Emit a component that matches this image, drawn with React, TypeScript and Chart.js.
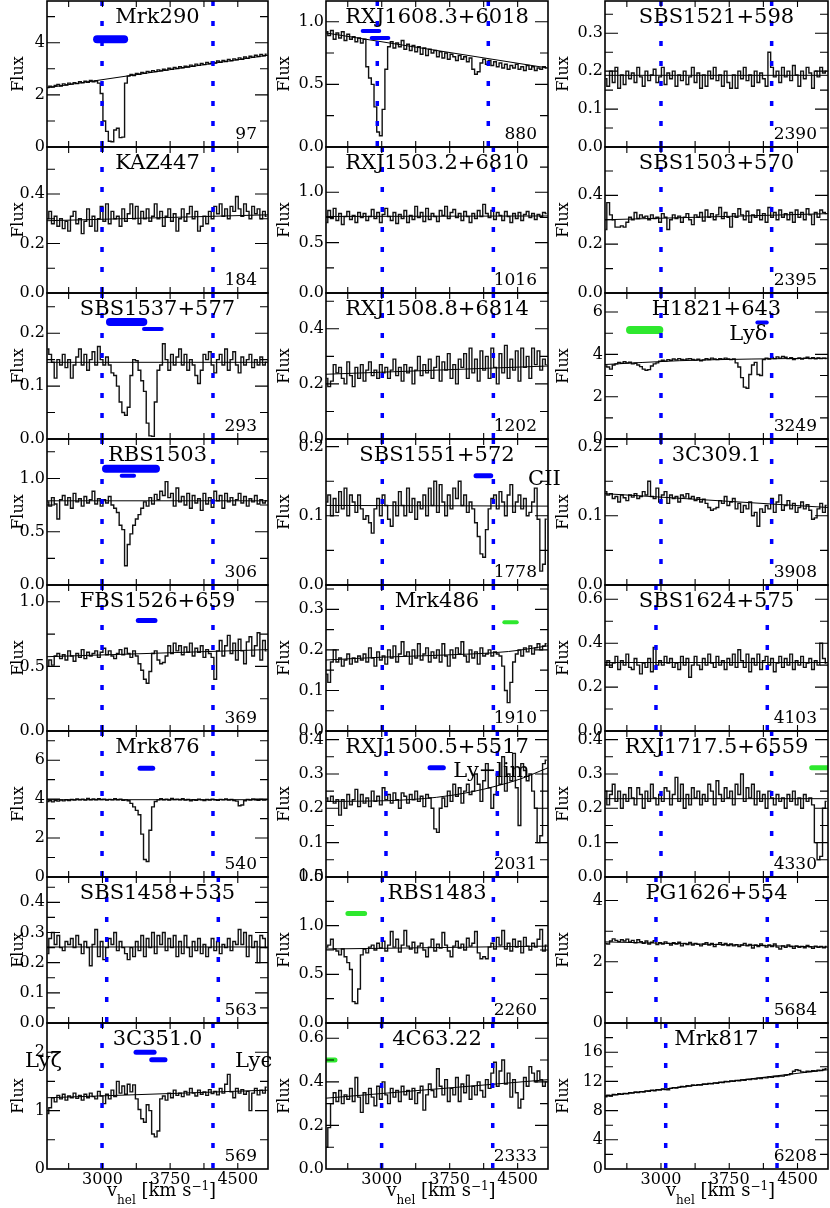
import React, { useEffect, useRef } from "react";
import { Chart, registerables } from "chart.js";

Chart.register(...registerables);

const FONT = '"DejaVu Serif", "Liberation Serif", serif';
const BLUE = "#0000ff";
const GREEN = "#2ee82e";

// velocity grid (km/s) of the spectra bins
const VEL = [
  2390, 2420, 2450, 2480, 2510, 2540, 2570, 2600, 2630, 2660,
  2690, 2720, 2750, 2780, 2810, 2840, 2870, 2900, 2930, 2960,
  2990, 3020, 3050, 3080, 3110, 3140, 3170, 3200, 3230, 3260,
  3290, 3320, 3350, 3380, 3410, 3440, 3470, 3500, 3530, 3560,
  3590, 3620, 3650, 3680, 3710, 3740, 3770, 3800, 3830, 3860,
  3890, 3920, 3950, 3980, 4010, 4040, 4070, 4100, 4130, 4160,
  4190, 4220, 4250, 4280, 4310, 4340, 4370, 4400, 4430, 4460,
  4490, 4520, 4550, 4580, 4610, 4640, 4670, 4700, 4730, 4760,
  4790, 4820,
];
const X_MIN = 2385;
const X_MAX = 4835;
const X_TICKS = [2625, 3000, 3375, 3750, 4125, 4500];
const X_LABELED = [3000, 3750, 4500];

// y tick sets
const T_024 = { major: [0, 2, 4], labels: ["0", "2", "4"], minor: [1, 3, 5] };
const T_0246 = { major: [0, 2, 4, 6], labels: ["0", "2", "4", "6"], minor: [1, 3, 5, 7] };
const T_012 = { major: [0, 1, 2], labels: ["0", "1", "2"], minor: [0.5, 1.5] };
const T_P2 = { major: [0, 0.2, 0.4], labels: ["0.0", "0.2", "0.4"], minor: [0.1, 0.3, 0.5] };
const T_P2_06 = { major: [0, 0.2, 0.4, 0.6], labels: ["0.0", "0.2", "0.4", "0.6"], minor: [0.1, 0.3, 0.5] };
const T_P1_02 = { major: [0, 0.1, 0.2], labels: ["0.0", "0.1", "0.2"], minor: [0.05, 0.15, 0.25] };
const T_P1_03 = { major: [0, 0.1, 0.2, 0.3], labels: ["0.0", "0.1", "0.2", "0.3"], minor: [0.05, 0.15, 0.25, 0.35] };
const T_P1_04 = { major: [0, 0.1, 0.2, 0.3, 0.4], labels: ["0.0", "0.1", "0.2", "0.3", "0.4"], minor: [0.05, 0.15, 0.25, 0.35, 0.45] };
const T_P5 = { major: [0, 0.5, 1.0], labels: ["0.0", "0.5", "1.0"], minor: [0.25, 0.75, 1.25] };
const T_P5_15 = { major: [0, 0.5, 1.0, 1.5], labels: ["0.0", "0.5", "1.0", "1.5"], minor: [0.25, 0.75, 1.25] };
const T_4 = { major: [0, 4, 8, 12, 16], labels: ["0", "4", "8", "12", "16"], minor: [2, 6, 10, 14, 18] };

// ---------------- column 1 ----------------
const MRK290_FLUX = [
  2.28, 2.33, 2.30, 2.36, 2.40, 2.34, 2.42, 2.38, 2.45, 2.41,
  2.47, 2.43, 2.50, 2.46, 2.52, 2.48, 2.55, 2.50, 2.53, 2.45,
  2.05, 1.00, 0.60, 0.22, 0.20, 0.65, 0.72, 0.36, 0.38, 2.45,
  2.72, 2.78, 2.74, 2.82, 2.79, 2.86, 2.83, 2.90, 2.87, 2.93,
  2.89, 2.96, 2.92, 2.98, 2.95, 3.02, 2.98, 3.05, 3.01, 3.08,
  3.04, 3.10, 3.07, 3.14, 3.10, 3.18, 3.13, 3.20, 3.16, 3.24,
  3.19, 3.26, 3.22, 3.30, 3.25, 3.32, 3.28, 3.36, 3.31, 3.38,
  3.34, 3.42, 3.36, 3.45, 3.40, 3.48, 3.44, 3.52, 3.47, 3.55,
  3.50, 3.56,
];
const MRK290_CONT = [[2385, 2.27], [4835, 3.52]];
const MRK290_BARS = [[2940, 3240, 4.13]];
const MRK290_LINES = [2995, 4225];

const KAZ447_FLUX = [
  0.30, 0.33, 0.28, 0.31, 0.27, 0.30, 0.26, 0.29, 0.25, 0.31,
  0.33, 0.28, 0.30, 0.24, 0.29, 0.34, 0.27, 0.31, 0.25, 0.30,
  0.35, 0.29, 0.36, 0.28, 0.33, 0.30, 0.31, 0.27, 0.34, 0.29,
  0.32, 0.36, 0.30, 0.35, 0.28, 0.33, 0.30, 0.34, 0.29, 0.31,
  0.36, 0.30, 0.33, 0.27, 0.31, 0.34, 0.29, 0.32, 0.25, 0.30,
  0.34, 0.29, 0.32, 0.35, 0.30, 0.33, 0.25, 0.27, 0.31, 0.28,
  0.33, 0.30, 0.35, 0.32, 0.36, 0.31, 0.34, 0.30, 0.35, 0.33,
  0.39, 0.34, 0.31, 0.36, 0.33, 0.30, 0.35, 0.32, 0.34, 0.30,
  0.33, 0.31,
];
const KAZ447_CONT = [[2385, 0.292], [4835, 0.316]];
const KAZ447_LINES = [2995, 4225];

const SBS1537_FLUX = [
  0.17, 0.16, 0.145, 0.115, 0.15, 0.14, 0.16, 0.135, 0.15, 0.115,
  0.14, 0.155, 0.17, 0.14, 0.16, 0.13, 0.15, 0.165, 0.14, 0.175,
  0.15, 0.14, 0.155, 0.14, 0.125, 0.12, 0.10, 0.07, 0.05, 0.045,
  0.06, 0.12, 0.15, 0.148, 0.13, 0.11, 0.09, 0.03, 0.006, 0.005,
  0.07, 0.13, 0.14, 0.18, 0.15, 0.13, 0.16, 0.14, 0.155, 0.17,
  0.14, 0.16, 0.13, 0.15, 0.14, 0.12, 0.105, 0.13, 0.16, 0.15,
  0.165, 0.14, 0.125, 0.15, 0.16, 0.14, 0.17, 0.13, 0.15, 0.165,
  0.14, 0.125, 0.155, 0.14, 0.15, 0.16, 0.135, 0.15, 0.14, 0.155,
  0.14, 0.145,
];
const SBS1537_CONT = [[2385, 0.145], [4835, 0.145]];
const SBS1537_BARS = [[3083, 3453, 0.221], [3460, 3657, 0.208]];
const SBS1537_LINES = [2995, 4225];

const RBS1503_FLUX = [
  0.78, 0.74, 0.82, 0.76, 0.62, 0.80, 0.84, 0.75, 0.82, 0.72,
  0.86, 0.78, 0.81, 0.74, 0.83, 0.77, 0.80, 0.88, 0.76, 0.81,
  0.74, 0.80, 0.77, 0.83, 0.75, 0.72, 0.68, 0.56, 0.52, 0.18,
  0.38, 0.48, 0.56, 0.62, 0.66, 0.72, 0.78, 0.74, 0.82, 0.76,
  0.85, 0.80, 0.88, 0.84, 0.97, 0.82, 0.86, 0.74, 0.91, 0.78,
  0.83, 0.75, 0.86, 0.72, 0.84, 0.77, 0.81, 0.70, 0.86, 0.76,
  0.82, 0.73, 0.88, 0.79, 0.84, 0.72, 0.86, 0.78, 0.82, 0.75,
  0.80, 0.86, 0.77, 0.83, 0.74, 0.81, 0.78, 0.84, 0.76, 0.80,
  0.77, 0.79,
];
const RBS1503_CONT = [[2385, 0.79], [4835, 0.79]];
const RBS1503_BARS = [[3039, 3593, 1.09], [3213, 3350, 1.025]];
const RBS1503_LINES = [2995, 4225];

const FBS1526_FLUX = [
  0.50, 0.55, 0.51, 0.58, 0.60, 0.56, 0.59, 0.55, 0.62, 0.58,
  0.54, 0.60, 0.57, 0.63, 0.56, 0.61, 0.58, 0.60, 0.62, 0.57,
  0.61, 0.64, 0.59, 0.62, 0.58, 0.56, 0.60, 0.63, 0.59, 0.64,
  0.60, 0.57, 0.62, 0.58, 0.52, 0.47, 0.40, 0.37, 0.46, 0.60,
  0.62, 0.55, 0.52, 0.53, 0.58, 0.66, 0.60, 0.68, 0.62, 0.66,
  0.59, 0.65, 0.61, 0.68, 0.58, 0.64, 0.61, 0.66, 0.57, 0.63,
  0.60, 0.57, 0.40, 0.62, 0.70, 0.58, 0.66, 0.74, 0.60, 0.68,
  0.55, 0.71, 0.62, 0.52, 0.69, 0.73, 0.58, 0.66, 0.76, 0.55,
  0.70, 0.62,
];
const FBS1526_CONT = [[2385, 0.575], [4835, 0.63]];
const FBS1526_BARS = [[3397, 3582, 0.856]];
const FBS1526_LINES = [2995, 4225];

const MRK876_FLUX = [
  3.88, 3.92, 3.86, 3.93, 3.90, 3.95, 3.91, 3.97, 3.93, 3.98,
  3.95, 4.01, 3.96, 4.00, 3.95, 4.03, 3.97, 4.01, 3.96, 4.02,
  3.98, 4.00, 3.95, 3.99, 3.96, 4.02, 3.97, 4.00, 3.94, 3.96,
  3.92, 3.78, 3.60, 3.42, 3.20, 2.20, 0.90, 0.80, 2.40, 3.60,
  3.88, 3.96, 4.02, 3.97, 4.00, 3.95, 4.03, 3.98, 4.00, 3.96,
  4.02, 3.95, 3.98, 3.92, 3.97, 3.94, 4.00, 3.96, 3.93, 3.98,
  3.95, 4.00, 3.97, 3.94, 3.99, 3.96, 4.01, 3.95, 3.98, 3.93,
  3.90, 3.66, 3.70, 3.92, 3.98, 3.95, 4.01, 3.97, 3.94, 3.99,
  3.95, 3.97,
];
const MRK876_CONT = [[2385, 3.97], [4835, 3.97]];
const MRK876_BARS = [[3416, 3557, 5.59]];
const MRK876_LINES = [2995, 4225];

const SBS1458_FLUX = [
  0.23, 0.28, 0.30, 0.26, 0.29, 0.25, 0.24, 0.27, 0.26, 0.28,
  0.25, 0.29, 0.26, 0.23, 0.27, 0.25, 0.19, 0.26, 0.31, 0.22,
  0.27, 0.21, 0.25, 0.28, 0.26, 0.30, 0.24, 0.27, 0.25, 0.23,
  0.21, 0.25, 0.22, 0.27, 0.24, 0.29, 0.22, 0.28, 0.25, 0.30,
  0.23, 0.29, 0.26, 0.30, 0.24, 0.28, 0.25, 0.29, 0.22, 0.27,
  0.23, 0.29, 0.25, 0.22, 0.27, 0.24, 0.28, 0.23, 0.26, 0.22,
  0.25, 0.28, 0.24, 0.27, 0.23, 0.26, 0.25, 0.28, 0.24, 0.27,
  0.26, 0.31, 0.26, 0.30, 0.22, 0.29, 0.25, 0.27, 0.20, 0.29,
  0.28, 0.25,
];
const SBS1458_CONT = [[2385, 0.252], [4835, 0.252]];
const SBS1458_LINES = [3047, 4284];

const C3C351_FLUX = [
  0.95, 1.05, 1.22, 1.15, 1.26, 1.20, 1.28, 1.18, 1.25, 1.22,
  1.30, 1.21, 1.26, 1.18, 1.28, 1.22, 1.30, 1.24, 1.20, 1.33,
  1.25, 1.12, 1.28, 1.20, 1.35, 1.24, 1.50, 1.30, 1.42, 1.28,
  1.45, 1.32, 1.44, 1.20, 1.02, 0.86, 0.80, 1.10, 1.00, 0.60,
  0.55, 0.65, 1.20, 1.25, 1.18, 1.30, 1.22, 1.35, 1.26, 1.30,
  1.24, 1.33, 1.27, 1.38, 1.30, 1.25, 1.35, 1.28, 1.32, 1.26,
  1.36, 1.29, 1.33, 1.27, 1.38, 1.30, 1.45, 1.62, 1.32, 1.22,
  1.38, 1.30, 1.36, 1.28, 1.33, 1.00, 1.30, 1.38, 1.27, 1.35,
  1.30, 1.40,
];
const C3C351_CONT = [[2385, 1.22], [4835, 1.35]];
const C3C351_BARS = [[3372, 3572, 2.0], [3546, 3693, 1.87]];
const C3C351_LINES = [2995, 4225];

// ---------------- column 2 ----------------
const RXJ1608_FLUX = [
  0.92, 0.89, 0.93, 0.86, 0.91, 0.87, 0.92, 0.85, 0.90, 0.86,
  0.88, 0.84, 0.87, 0.83, 0.86, 0.64, 0.55, 0.50, 0.32, 0.12,
  0.09, 0.30, 0.62, 0.80, 0.84, 0.79, 0.83, 0.80, 0.85, 0.78,
  0.82, 0.77, 0.81, 0.76, 0.80, 0.74, 0.79, 0.73, 0.78, 0.75,
  0.77, 0.72, 0.76, 0.71, 0.75, 0.70, 0.74, 0.72, 0.69, 0.73,
  0.70, 0.72, 0.68, 0.71, 0.62, 0.58, 0.60, 0.67, 0.70, 0.66,
  0.69, 0.65, 0.68, 0.64, 0.67, 0.63, 0.66, 0.62, 0.65, 0.63,
  0.66, 0.62, 0.64, 0.61, 0.65, 0.62, 0.64, 0.61, 0.63, 0.62,
  0.64, 0.63,
];
const RXJ1608_CONT = [[2385, 0.91], [4835, 0.63]];
const RXJ1608_BARS = [[2790, 2973, 0.925], [2889, 3073, 0.87]];
const RXJ1608_LINES = [2951, 4176];

const RXJ1503_FLUX = [
  0.70, 0.82, 0.74, 0.84, 0.72, 0.79, 0.68, 0.76, 0.81, 0.73,
  0.77, 0.70, 0.80, 0.75, 0.79, 0.72, 0.76, 0.83, 0.74, 0.80,
  0.70, 0.78, 0.84, 0.76, 0.72, 0.80, 0.69, 0.78, 0.74, 0.82,
  0.70, 0.77, 0.73, 0.86, 0.75, 0.80, 0.71, 0.84, 0.73, 0.79,
  0.76, 0.71, 0.82, 0.77, 0.86, 0.74, 0.80, 0.83, 0.75, 0.79,
  0.72, 0.81, 0.76, 0.70, 0.79, 0.74, 0.82, 0.76, 0.88, 0.79,
  0.75, 0.82, 0.73, 0.80, 0.77, 0.72, 0.81, 0.76, 0.70, 0.79,
  0.74, 0.80, 0.72, 0.78, 0.81, 0.75, 0.79, 0.73, 0.78, 0.76,
  0.80, 0.79,
];
const RXJ1503_CONT = [[2385, 0.76], [4835, 0.765]];
const RXJ1503_LINES = [3006, 4232];

const RXJ1508_FLUX = [
  0.22, 0.19, 0.21, 0.27, 0.24, 0.26, 0.22, 0.20, 0.28, 0.23,
  0.19, 0.26, 0.22, 0.27, 0.21, 0.25, 0.28, 0.23, 0.25, 0.22,
  0.27, 0.24, 0.26, 0.22, 0.25, 0.29, 0.23, 0.26, 0.21, 0.27,
  0.24, 0.26, 0.20, 0.25, 0.30, 0.23, 0.27, 0.24, 0.29, 0.22,
  0.26, 0.30, 0.21, 0.28, 0.25, 0.31, 0.22, 0.27, 0.20, 0.29,
  0.26, 0.31, 0.22, 0.33, 0.24, 0.29, 0.21, 0.32, 0.25, 0.30,
  0.22, 0.33, 0.26, 0.20, 0.31, 0.24, 0.34, 0.22, 0.29, 0.25,
  0.32, 0.21, 0.33, 0.26, 0.30, 0.22, 0.33, 0.27, 0.32, 0.25,
  0.29, 0.27,
];
const RXJ1508_CONT = [[2385, 0.235], [4835, 0.265]];
const RXJ1508_LINES = [3006, 4232];

const SBS1551_FLUX = [
  0.120, 0.130, 0.100, 0.125, 0.105, 0.135, 0.110, 0.140, 0.100, 0.130,
  0.120, 0.105, 0.130, 0.110, 0.095, 0.100, 0.090, 0.075, 0.110, 0.125,
  0.100, 0.130, 0.115, 0.095, 0.085, 0.120, 0.100, 0.135, 0.115, 0.100,
  0.140, 0.105, 0.125, 0.095, 0.120, 0.110, 0.130, 0.100, 0.140, 0.115,
  0.150, 0.105, 0.145, 0.120, 0.100, 0.130, 0.110, 0.140, 0.125, 0.150,
  0.115, 0.130, 0.105, 0.120, 0.110, 0.090, 0.070, 0.045, 0.040, 0.080,
  0.110, 0.125, 0.130, 0.110, 0.135, 0.120, 0.100, 0.130, 0.145, 0.105,
  0.120, 0.130, 0.110, 0.125, 0.100, 0.105, 0.120, 0.140, 0.095, 0.020,
  0.030, 0.095,
];
const SBS1551_CONT = [[2385, 0.115], [4835, 0.114]];
const SBS1551_BARS = [[4041, 4203, 0.158]];
const SBS1551_LINES = [3006, 4232];

const MRK486_FLUX = [
  0.14, 0.12, 0.17, 0.20, 0.17, 0.18, 0.16, 0.175, 0.19, 0.165,
  0.18, 0.17, 0.185, 0.175, 0.19, 0.17, 0.205, 0.18, 0.16, 0.195,
  0.175, 0.185, 0.165, 0.20, 0.18, 0.21, 0.17, 0.19, 0.22, 0.185,
  0.195, 0.165, 0.20, 0.18, 0.215, 0.175, 0.19, 0.205, 0.17, 0.195,
  0.18, 0.20, 0.17, 0.215, 0.185, 0.16, 0.20, 0.18, 0.205, 0.19,
  0.22, 0.185, 0.17, 0.20, 0.18, 0.195, 0.165, 0.205, 0.185, 0.19,
  0.20, 0.185, 0.195, 0.19, 0.185, 0.16, 0.10, 0.07, 0.12, 0.17,
  0.19, 0.20, 0.185, 0.205, 0.195, 0.21, 0.19, 0.205, 0.215, 0.20,
  0.21, 0.215,
];
const MRK486_CONT = [[2385, 0.175], [3000, 0.182], [4000, 0.19], [4400, 0.196], [4835, 0.21]];
const MRK486_BARS = [[4353, 4490, 0.268]];
const MRK486_LINES = [3006, 4232];

const RXJ1500_FLUX = [
  0.23, 0.22, 0.235, 0.215, 0.225, 0.18, 0.225, 0.20, 0.24, 0.21,
  0.225, 0.255, 0.205, 0.24, 0.215, 0.23, 0.205, 0.25, 0.22, 0.235,
  0.21, 0.26, 0.225, 0.24, 0.215, 0.245, 0.225, 0.20, 0.245, 0.235,
  0.215, 0.24, 0.225, 0.25, 0.22, 0.235, 0.205, 0.24, 0.23, 0.20,
  0.14, 0.13, 0.20, 0.23, 0.205, 0.25, 0.22, 0.27, 0.235, 0.26,
  0.215, 0.25, 0.27, 0.24, 0.25, 0.30, 0.27, 0.22, 0.28, 0.33,
  0.26, 0.20, 0.24, 0.30, 0.27, 0.35, 0.25, 0.30, 0.28, 0.36,
  0.26, 0.15, 0.33, 0.31, 0.28, 0.30, 0.25, 0.20, 0.10, 0.12,
  0.33, 0.34,
];
const RXJ1500_CONT = [[2385, 0.22], [3055, 0.222], [3607, 0.232], [3975, 0.247], [4269, 0.265], [4526, 0.285], [4835, 0.318]];
const RXJ1500_BARS = [[3533, 3680, 0.318]];
const RXJ1500_LINES = [3047, 4276];

const RBS1483_FLUX = [
  0.78, 0.80, 0.86, 0.76, 0.74, 0.70, 0.76, 0.68, 0.62, 0.55,
  0.22, 0.20, 0.35, 0.70, 0.76, 0.72, 0.78, 0.80, 0.75, 0.82,
  0.77, 0.84, 0.74, 0.80, 0.94, 0.78, 0.86, 0.73, 0.80, 0.95,
  0.79, 0.76, 0.83, 0.72, 0.79, 0.82, 0.75, 0.68, 0.78, 0.86,
  0.74, 0.81, 0.77, 0.93, 0.80, 0.74, 0.68, 0.79, 0.84, 0.77,
  0.81, 0.75, 0.87, 0.79, 0.82, 0.94, 0.72, 0.66, 0.68, 0.66,
  0.78, 0.82, 0.76, 0.88, 0.80, 0.95, 0.76, 0.82, 0.74, 0.86,
  0.78, 0.84, 0.72, 0.88, 0.79, 0.75, 0.82, 0.78, 0.86, 0.96,
  0.74, 0.80,
];
const RBS1483_CONT = [[2385, 0.76], [4835, 0.79]];
const RBS1483_BARS = [[2627, 2811, 1.126]];
const RBS1483_LINES = [3006, 4232];

const C4C6322_FLUX = [
  0.10, 0.19, 0.30, 0.35, 0.31, 0.36, 0.30, 0.34, 0.32, 0.37,
  0.31, 0.42, 0.33, 0.26, 0.35, 0.30, 0.37, 0.33, 0.29, 0.38,
  0.32, 0.40, 0.34, 0.30, 0.37, 0.33, 0.36, 0.31, 0.38, 0.34,
  0.36, 0.32, 0.37, 0.30, 0.35, 0.38, 0.27, 0.34, 0.39, 0.36,
  0.33, 0.46, 0.38, 0.34, 0.41, 0.31, 0.37, 0.34, 0.42, 0.31,
  0.39, 0.35, 0.43, 0.32, 0.38, 0.34, 0.40, 0.36, 0.33, 0.41,
  0.37, 0.44, 0.49, 0.38, 0.45, 0.50, 0.39, 0.44, 0.33, 0.41,
  0.35, 0.28, 0.32, 0.42, 0.38, 0.47, 0.44, 0.40, 0.45, 0.41,
  0.38, 0.40,
];
const C4C6322_CONT = [[2385, 0.325], [4835, 0.41]];
const C4C6322_BARS = [[2392, 2484, 0.5]];
const C4C6322_LINES = [2999, 4225];

// ---------------- column 3 ----------------
const SBS1521_FLUX = [
  0.18, 0.16, 0.20, 0.17, 0.21, 0.155, 0.19, 0.165, 0.20, 0.18,
  0.195, 0.17, 0.21, 0.185, 0.16, 0.20, 0.175, 0.19, 0.205, 0.17,
  0.185, 0.21, 0.165, 0.195, 0.18, 0.20, 0.16, 0.19, 0.175, 0.20,
  0.165, 0.185, 0.21, 0.17, 0.195, 0.155, 0.19, 0.16, 0.20, 0.18,
  0.21, 0.175, 0.19, 0.16, 0.20, 0.17, 0.155, 0.19, 0.155, 0.20,
  0.18, 0.21, 0.175, 0.19, 0.16, 0.20, 0.17, 0.195, 0.18, 0.16,
  0.25, 0.21, 0.185, 0.20, 0.17, 0.21, 0.185, 0.20, 0.175, 0.215,
  0.19, 0.16, 0.20, 0.18, 0.21, 0.195, 0.155, 0.20, 0.185, 0.21,
  0.195, 0.20,
];
const SBS1521_CONT = [[2385, 0.189], [4835, 0.189]];
const SBS1521_LINES = [3000, 4216];

const SBS1503_FLUX = [
  0.26, 0.37, 0.32, 0.30, 0.27, 0.27, 0.275, 0.27, 0.29, 0.31,
  0.30, 0.33, 0.305, 0.32, 0.31, 0.315, 0.30, 0.32, 0.305, 0.31,
  0.29, 0.325, 0.31, 0.26, 0.30, 0.32, 0.305, 0.315, 0.29, 0.31,
  0.325, 0.30, 0.28, 0.32, 0.31, 0.33, 0.295, 0.34, 0.31, 0.325,
  0.30, 0.32, 0.35, 0.305, 0.33, 0.31, 0.27, 0.325, 0.31, 0.345,
  0.32, 0.30, 0.335, 0.29, 0.32, 0.31, 0.34, 0.30, 0.325, 0.29,
  0.35, 0.31, 0.33, 0.30, 0.34, 0.31, 0.325, 0.30, 0.33, 0.29,
  0.34, 0.31, 0.33, 0.30, 0.345, 0.32, 0.28, 0.33, 0.31, 0.34,
  0.33, 0.325,
];
const SBS1503_CONT = [[2385, 0.30], [4835, 0.325]];
const SBS1503_LINES = [3000, 4216];

const H1821_FLUX = [
  3.45, 3.40, 3.30, 3.50, 3.55, 3.62, 3.58, 3.65, 3.60, 3.63,
  3.55, 3.58, 3.50, 3.42, 3.30, 3.25, 3.28, 3.45, 3.55, 3.60,
  3.68, 3.72, 3.68, 3.75, 3.72, 3.78, 3.74, 3.80, 3.76, 3.74,
  3.78, 3.80, 3.76, 3.73, 3.77, 3.70, 3.74, 3.79, 3.76, 3.82,
  3.78, 3.75, 3.80, 3.77, 3.82, 3.78, 3.75, 3.78, 3.60, 3.40,
  2.90, 2.45, 2.40, 3.05, 3.50, 3.62, 3.05, 3.00, 3.75, 3.82,
  3.78, 3.85, 3.80, 3.88, 3.82, 3.90, 3.86, 3.80, 3.84, 3.76,
  3.80, 3.83, 3.78, 3.82, 3.86, 3.80, 3.84, 3.79, 3.83, 3.80,
  3.82, 3.80,
];
const H1821_CONT = [[2385, 3.52], [3200, 3.7], [4000, 3.78], [4835, 3.82]];
const H1821_BARS = [[2660, 2982, 5.15], [4059, 4162, 5.5]];
const H1821_LINES = [3000, 4216];

const C3C309_FLUX = [
  0.135, 0.130, 0.132, 0.125, 0.128, 0.120, 0.130, 0.126, 0.122, 0.130,
  0.127, 0.132, 0.125, 0.128, 0.135, 0.130, 0.150, 0.128, 0.125, 0.140,
  0.120, 0.130, 0.135, 0.118, 0.130, 0.125, 0.128, 0.120, 0.130, 0.127,
  0.132, 0.125, 0.128, 0.122, 0.126, 0.120, 0.124, 0.118, 0.112, 0.108,
  0.110, 0.112, 0.122, 0.118, 0.128, 0.115, 0.120, 0.125, 0.110, 0.118,
  0.105, 0.115, 0.110, 0.120, 0.100, 0.105, 0.085, 0.110, 0.105, 0.115,
  0.110, 0.125, 0.105, 0.120, 0.130, 0.108, 0.115, 0.122, 0.110, 0.118,
  0.105, 0.112, 0.120, 0.110, 0.116, 0.108, 0.095, 0.097, 0.110, 0.118,
  0.105, 0.115,
];
const C3C309_CONT = [[2385, 0.132], [4835, 0.112]];
const C3C309_LINES = [3000, 4216];

const SBS1624_FLUX = [
  0.30, 0.32, 0.29, 0.31, 0.34, 0.28, 0.32, 0.30, 0.35, 0.29,
  0.28, 0.33, 0.30, 0.26, 0.31, 0.29, 0.33, 0.27, 0.38, 0.30,
  0.32, 0.30, 0.34, 0.31, 0.33, 0.29, 0.31, 0.28, 0.34, 0.30,
  0.33, 0.245, 0.30, 0.34, 0.30, 0.28, 0.33, 0.30, 0.35, 0.31,
  0.29, 0.34, 0.30, 0.32, 0.28, 0.33, 0.30, 0.35, 0.29, 0.37,
  0.32, 0.29, 0.35, 0.27, 0.33, 0.30, 0.35, 0.28, 0.32, 0.34,
  0.30, 0.33, 0.27, 0.31, 0.34, 0.29, 0.33, 0.30, 0.35, 0.28,
  0.32, 0.30, 0.34, 0.29, 0.31, 0.33, 0.28, 0.32, 0.30, 0.40,
  0.33, 0.31,
];
const SBS1624_CONT = [[2385, 0.312], [4835, 0.312]];
const SBS1624_LINES = [2945, 4168];

const RXJ1717_FLUX = [
  0.25, 0.21, 0.24, 0.27, 0.22, 0.25, 0.20, 0.24, 0.22, 0.26,
  0.23, 0.21, 0.26, 0.24, 0.20, 0.25, 0.22, 0.27, 0.23, 0.21,
  0.24, 0.22, 0.26, 0.25, 0.21, 0.24, 0.29, 0.22, 0.27, 0.20,
  0.24, 0.21, 0.26, 0.23, 0.25, 0.21, 0.24, 0.22, 0.27, 0.25,
  0.21, 0.28, 0.24, 0.22, 0.26, 0.23, 0.25, 0.21, 0.27, 0.24,
  0.30, 0.22, 0.26, 0.23, 0.27, 0.21, 0.25, 0.22, 0.24, 0.20,
  0.25, 0.23, 0.21, 0.24, 0.22, 0.23, 0.20, 0.24, 0.22, 0.25,
  0.21, 0.23, 0.20, 0.24, 0.22, 0.23, 0.21, 0.10, 0.05, 0.06,
  0.20, 0.22,
];
const RXJ1717_CONT = [[2385, 0.228], [4835, 0.228]];
const RXJ1717_BARS = [[4656, 4840, 0.318]];
const RXJ1717_LINES = [3000, 4216];

const PG1626_FLUX = [
  2.60, 2.58, 2.68, 2.75, 2.70, 2.66, 2.72, 2.68, 2.74, 2.65,
  2.70, 2.62, 2.72, 2.66, 2.60, 2.68, 2.58, 2.64, 2.69, 2.56,
  2.62, 2.58, 2.65, 2.60, 2.55, 2.62, 2.58, 2.64, 2.52, 2.60,
  2.56, 2.63, 2.55, 2.60, 2.57, 2.52, 2.58, 2.62, 2.55, 2.60,
  2.50, 2.57, 2.62, 2.55, 2.60, 2.53, 2.58, 2.52, 2.56, 2.50,
  2.55, 2.60, 2.52, 2.57, 2.45, 2.55, 2.50, 2.58, 2.53, 2.48,
  2.55, 2.50, 2.58, 2.48, 2.42, 2.52, 2.47, 2.55, 2.50, 2.44,
  2.52, 2.47, 2.50, 2.46, 2.53, 2.49, 2.44, 2.51, 2.47, 2.50,
  2.46, 2.50,
];
const PG1626_CONT = [[2385, 2.65], [4835, 2.48]];
const PG1626_LINES = [2945, 4168];

const MRK817_FLUX = [
  9.90, 10.10, 10.00, 10.20, 10.15, 10.30, 10.22, 10.35, 10.30, 10.45,
  10.40, 10.55, 10.48, 10.60, 10.55, 10.70, 10.65, 10.80, 10.72, 10.85,
  10.80, 10.95, 10.88, 10.85, 11.05, 11.15, 11.10, 11.20, 11.30, 11.25,
  11.40, 11.35, 11.50, 11.45, 11.55, 11.50, 11.65, 11.60, 11.72, 11.68,
  11.80, 11.75, 11.90, 11.85, 11.98, 11.95, 12.05, 12.00, 12.12, 12.08,
  12.20, 12.15, 12.28, 12.25, 12.35, 12.32, 12.45, 12.40, 12.52, 12.48,
  12.60, 12.55, 12.68, 12.65, 12.75, 12.72, 12.85, 12.90, 13.05, 13.40,
  13.60, 13.50, 13.30, 13.25, 13.40, 13.35, 13.45, 13.42, 13.55, 13.50,
  13.65, 13.75,
];
const MRK817_CONT = [[2385, 10.0], [4835, 13.6]];
const MRK817_LINES = [3052, 4275];

// ---------------- panel definitions ----------------
type Note = { text: string; v: number; f: number };
type Panel = {
  name: string; id: string; col: number; row: number; yMax: number; ticks: any;
  flux: number[]; cont: number[][]; bars: number[][]; barStyle: [number, string][];
  lines: number[]; notes: Note[];
};

const PANELS: Panel[] = [
  { name: "Mrk290", id: "97", col: 0, row: 0, yMax: 5.6, ticks: T_024, flux: MRK290_FLUX, cont: MRK290_CONT, bars: MRK290_BARS, barStyle: [[8, BLUE]], lines: MRK290_LINES, notes: [] },
  { name: "KAZ447", id: "184", col: 0, row: 1, yMax: 0.59, ticks: T_P2, flux: KAZ447_FLUX, cont: KAZ447_CONT, bars: [], barStyle: [], lines: KAZ447_LINES, notes: [] },
  { name: "SBS1537+577", id: "293", col: 0, row: 2, yMax: 0.276, ticks: T_P1_02, flux: SBS1537_FLUX, cont: SBS1537_CONT, bars: SBS1537_BARS, barStyle: [[8, BLUE], [4, BLUE]], lines: SBS1537_LINES, notes: [] },
  { name: "RBS1503", id: "306", col: 0, row: 3, yMax: 1.37, ticks: T_P5, flux: RBS1503_FLUX, cont: RBS1503_CONT, bars: RBS1503_BARS, barStyle: [[8, BLUE], [4, BLUE]], lines: RBS1503_LINES, notes: [] },
  { name: "FBS1526+659", id: "369", col: 0, row: 4, yMax: 1.13, ticks: T_P5, flux: FBS1526_FLUX, cont: FBS1526_CONT, bars: FBS1526_BARS, barStyle: [[5, BLUE]], lines: FBS1526_LINES, notes: [] },
  { name: "Mrk876", id: "540", col: 0, row: 5, yMax: 7.5, ticks: T_0246, flux: MRK876_FLUX, cont: MRK876_CONT, bars: MRK876_BARS, barStyle: [[5, BLUE]], lines: MRK876_LINES, notes: [] },
  { name: "SBS1458+535", id: "563", col: 0, row: 6, yMax: 0.484, ticks: T_P1_04, flux: SBS1458_FLUX, cont: SBS1458_CONT, bars: [], barStyle: [], lines: SBS1458_LINES, notes: [] },
  { name: "3C351.0", id: "569", col: 0, row: 7, yMax: 2.5, ticks: T_012, flux: C3C351_FLUX, cont: C3C351_CONT, bars: C3C351_BARS, barStyle: [[5, BLUE], [5, BLUE]], lines: C3C351_LINES,
    notes: [{ text: "Lyζ", v: 2141, f: 1.75 }, { text: "Lyϵ", v: 4469, f: 1.75 }] },

  { name: "RXJ1608.3+6018", id: "880", col: 1, row: 0, yMax: 1.165, ticks: T_P5, flux: RXJ1608_FLUX, cont: RXJ1608_CONT, bars: RXJ1608_BARS, barStyle: [[4, BLUE], [4, BLUE]], lines: RXJ1608_LINES, notes: [] },
  { name: "RXJ1503.2+6810", id: "1016", col: 1, row: 1, yMax: 1.45, ticks: T_P5, flux: RXJ1503_FLUX, cont: RXJ1503_CONT, bars: [], barStyle: [], lines: RXJ1503_LINES, notes: [] },
  { name: "RXJ1508.8+6814", id: "1202", col: 1, row: 2, yMax: 0.53, ticks: T_P2, flux: RXJ1508_FLUX, cont: RXJ1508_CONT, bars: [], barStyle: [], lines: RXJ1508_LINES, notes: [] },
  { name: "SBS1551+572", id: "1778", col: 1, row: 3, yMax: 0.211, ticks: T_P1_02, flux: SBS1551_FLUX, cont: SBS1551_CONT, bars: SBS1551_BARS, barStyle: [[5, BLUE]], lines: SBS1551_LINES,
    notes: [{ text: "CII", v: 4615, f: 0.145 }] },
  { name: "Mrk486", id: "1910", col: 1, row: 4, yMax: 0.36, ticks: T_P1_03, flux: MRK486_FLUX, cont: MRK486_CONT, bars: MRK486_BARS, barStyle: [[4, GREEN]], lines: MRK486_LINES, notes: [] },
  { name: "RXJ1500.5+5517", id: "2031", col: 1, row: 5, yMax: 0.425, ticks: T_P1_04, flux: RXJ1500_FLUX, cont: RXJ1500_CONT, bars: RXJ1500_BARS, barStyle: [[5, BLUE]], lines: RXJ1500_LINES,
    notes: [{ text: "Ly\u2212lim", v: 3790, f: 0.291 }] },
  { name: "RBS1483", id: "2260", col: 1, row: 6, yMax: 1.5, ticks: T_P5_15, flux: RBS1483_FLUX, cont: RBS1483_CONT, bars: RBS1483_BARS, barStyle: [[5, GREEN]], lines: RBS1483_LINES, notes: [] },
  { name: "4C63.22", id: "2333", col: 1, row: 7, yMax: 0.67, ticks: T_P2_06, flux: C4C6322_FLUX, cont: C4C6322_CONT, bars: C4C6322_BARS, barStyle: [[5, GREEN]], lines: C4C6322_LINES, notes: [] },

  { name: "SBS1521+598", id: "2390", col: 2, row: 0, yMax: 0.385, ticks: T_P1_03, flux: SBS1521_FLUX, cont: SBS1521_CONT, bars: [], barStyle: [], lines: SBS1521_LINES, notes: [] },
  { name: "SBS1503+570", id: "2395", col: 2, row: 1, yMax: 0.598, ticks: T_P2, flux: SBS1503_FLUX, cont: SBS1503_CONT, bars: [], barStyle: [], lines: SBS1503_LINES, notes: [] },
  { name: "H1821+643", id: "3249", col: 2, row: 2, yMax: 6.9, ticks: T_0246, flux: H1821_FLUX, cont: H1821_CONT, bars: H1821_BARS, barStyle: [[8, GREEN], [4, BLUE]], lines: H1821_LINES,
    notes: [{ text: "Lyδ", v: 3751, f: 4.68 }] },
  { name: "3C309.1", id: "3908", col: 2, row: 3, yMax: 0.211, ticks: T_P1_02, flux: C3C309_FLUX, cont: C3C309_CONT, bars: [], barStyle: [], lines: C3C309_LINES, notes: [] },
  { name: "SBS1624+575", id: "4103", col: 2, row: 4, yMax: 0.665, ticks: T_P2_06, flux: SBS1624_FLUX, cont: SBS1624_CONT, bars: [], barStyle: [], lines: SBS1624_LINES, notes: [] },
  { name: "RXJ1717.5+6559", id: "4330", col: 2, row: 5, yMax: 0.425, ticks: T_P1_04, flux: RXJ1717_FLUX, cont: RXJ1717_CONT, bars: RXJ1717_BARS, barStyle: [[5, GREEN]], lines: RXJ1717_LINES, notes: [] },
  { name: "PG1626+554", id: "5684", col: 2, row: 6, yMax: 4.77, ticks: T_024, flux: PG1626_FLUX, cont: PG1626_CONT, bars: [], barStyle: [], lines: PG1626_LINES, notes: [] },
  { name: "Mrk817", id: "6208", col: 2, row: 7, yMax: 20, ticks: T_4, flux: MRK817_FLUX, cont: MRK817_CONT, bars: [], barStyle: [], lines: MRK817_LINES, notes: [] },
];

// ---------------- layout ----------------
const COL_LEFT = [47, 326, 605];
const COL_W = [221, 222, 223];
const ROW_TOP0 = 1;
const ROW_H = 146;
const AXIS_W = [47, 58, 58];
const FLUX_SIZE = 16;
const FLUX_PAD = [9.4, 7.4, 7.4];
const PAD_R = [12, 12, 2];

function decoPlugin(p: Panel, bottom: boolean) {
  return {
    id: "deco",
    afterDraw(chart: any) {
      const { ctx, chartArea: ca, scales } = chart;
      const xs = scales.x;
      const ys = scales.y;
      ctx.save();
      ctx.strokeStyle = "#000";
      ctx.lineWidth = 1.6;
      ctx.strokeRect(ca.left, ca.top, ca.right - ca.left, ca.bottom - ca.top);
      ctx.lineWidth = 1.1;
      ctx.beginPath();
      X_TICKS.forEach((v) => {
        const x = xs.getPixelForValue(v);
        ctx.moveTo(x, ca.bottom); ctx.lineTo(x, ca.bottom - 6);
        ctx.moveTo(x, ca.top); ctx.lineTo(x, ca.top + 6);
      });
      const yt = (vals: number[], len: number) => vals.forEach((v) => {
        const y = ys.getPixelForValue(v);
        if (y < ca.top + 0.5 || y > ca.bottom - 0.5) return;
        ctx.moveTo(ca.left, y); ctx.lineTo(ca.left + len, y);
        ctx.moveTo(ca.right, y); ctx.lineTo(ca.right - len, y);
      });
      yt(p.ticks.major, 13);
      yt(p.ticks.minor, 8);
      ctx.stroke();

      ctx.fillStyle = "#000";
      ctx.textBaseline = "alphabetic";
      ctx.font = `21px ${FONT}`;
      ctx.textAlign = "center";
      ctx.fillText(p.name, (ca.left + ca.right) / 2, ca.top + 21.5);

      ctx.font = `17px ${FONT}`;
      ctx.textAlign = "right";
      ctx.fillText(p.id, ca.right - 11, ca.bottom - 8.5);

      ctx.font = `21px ${FONT}`;
      ctx.textAlign = "left";
      p.notes.forEach((n) => {
        ctx.fillText(n.text, xs.getPixelForValue(n.v), ys.getPixelForValue(n.f));
      });

      if (bottom) {
        const parts: [string, number, number][] = [
          ["v", 18, 0], ["hel", 12, 8], [" [km s", 18, 0], ["\u22121", 12, -6], ["]", 18, 0],
        ];
        let total = 0;
        parts.forEach(([t, s]) => { ctx.font = `${s}px ${FONT}`; total += ctx.measureText(t).width; });
        let x = (ca.left + ca.right) / 2 + 4 - total / 2;
        const base = ca.bottom + 26.5;
        parts.forEach(([t, s, dy]) => {
          ctx.font = `${s}px ${FONT}`;
          ctx.fillText(t, x, base + dy);
          x += ctx.measureText(t).width;
        });
      }
      ctx.restore();
    },
  };
}

function makeChart(canvas: HTMLCanvasElement, p: Panel) {
  const bottom = p.row === 7;
  const plotL = COL_LEFT[p.col];
  const plotW = COL_W[p.col];
  const plotT = ROW_TOP0 + p.row * ROW_H;
  const plotH = ROW_H;
  const padT = 14;
  const padR = PAD_R[p.col];
  const padB = bottom ? 40 : 14;
  const W = AXIS_W[p.col] + plotW + padR;
  const H = padT + plotH + padB + (bottom ? 26 : 0);
  canvas.width = W;
  canvas.height = H;
  canvas.style.width = `${W}px`;
  canvas.style.height = `${H}px`;

  const datasets: any[] = [];
  p.lines.forEach((v) => {
    datasets.push({
      data: [{ x: v, y: p.yMax }, { x: v, y: 0 }],
      borderColor: BLUE, borderWidth: 3.5, borderDash: [5, 15], borderCapStyle: "butt",
      pointRadius: 0, order: 0, fill: false,
    });
  });
  p.bars.forEach((b, i) => {
    const st = p.barStyle[i] || [5, BLUE];
    datasets.push({
      data: [{ x: b[0], y: b[2] }, { x: b[1], y: b[2] }],
      borderColor: st[1], borderWidth: st[0], borderCapStyle: "round",
      pointRadius: 0, order: 1, fill: false,
    });
  });
  datasets.push({
    data: p.cont.map((c) => ({ x: c[0], y: c[1] })),
    borderColor: "#000", borderWidth: 1, pointRadius: 0, order: 2, fill: false,
    cubicInterpolationMode: p.cont.length > 2 ? "monotone" : "default",
  });
  datasets.push({
    data: p.flux.map((f, i) => ({ x: VEL[i], y: f })),
    borderColor: "#111", borderWidth: 1.4, pointRadius: 0, order: 3, fill: false,
    stepped: "middle",
  });

  const labelFor = (v: number) => {
    const k = p.ticks.major.findIndex((m: number) => Math.abs(m - v) < 1e-9);
    return k >= 0 ? p.ticks.labels[k] : "";
  };

  const chart = new Chart(canvas, {
    type: "line",
    data: { datasets },
    options: {
      responsive: false,
      maintainAspectRatio: false,
      animation: false,
      devicePixelRatio: 1,
      events: [],
      layout: { padding: { left: 0, top: padT, right: padR, bottom: padB } },
      plugins: { legend: { display: false }, tooltip: { enabled: false }, title: { display: false } },
      scales: {
        x: {
          type: "linear", min: X_MIN, max: X_MAX,
          grid: { display: false, drawTicks: false },
          border: { display: false },
          afterBuildTicks: (s: any) => { s.ticks = X_TICKS.map((v) => ({ value: v })); },
          ticks: {
            display: bottom, autoSkip: false, maxRotation: 0, minRotation: 0, padding: 1,
            color: "#000", font: { family: FONT, size: 16 },
            callback: (v: any) => (X_LABELED.includes(Number(v)) ? String(v) : ""),
          },
        },
        y: {
          type: "linear", min: 0, max: p.yMax,
          grid: { display: false, drawTicks: false },
          border: { display: false },
          afterBuildTicks: (s: any) => {
            s.ticks = p.ticks.major.filter((v: number) => v <= p.yMax + 1e-9).map((v: number) => ({ value: v }));
          },
          afterFit: (s: any) => { s.width = AXIS_W[p.col]; },
          ticks: {
            autoSkip: false, padding: 2, color: "#000", font: { family: FONT, size: 16 },
            callback: (v: any) => labelFor(Number(v)),
          },
          title: {
            display: true, text: "Flux", color: "#000",
            font: { family: FONT, size: FLUX_SIZE },
            padding: { top: FLUX_PAD[p.col], bottom: 0 },
          },
        },
      },
    } as any,
    plugins: [decoPlugin(p, bottom)],
  });

  const ca = chart.chartArea;
  const dw = ca.right - ca.left - plotW;
  const dh = ca.bottom - ca.top - plotH;
  if (Math.abs(dw) > 0.01 || Math.abs(dh) > 0.01) {
    (chart.options as any).layout.padding = { left: 0, top: padT, right: padR + dw, bottom: padB + dh };
    chart.update();
  }
  canvas.style.left = `${plotL - chart.chartArea.left}px`;
  canvas.style.top = `${plotT - chart.chartArea.top}px`;
  return chart;
}

export default function App() {
  const refs = useRef<(HTMLCanvasElement | null)[]>([]);
  useEffect(() => {
    const charts = PANELS.map((p, i) => makeChart(refs.current[i] as HTMLCanvasElement, p));
    return () => charts.forEach((c) => c.destroy());
  }, []);
  return (
    <div style={{ position: "absolute", left: 0, top: 0, width: 830, height: 1208, overflow: "hidden", background: "#fff" }}>
      {PANELS.map((p, i) => (
        <canvas key={p.name} ref={(el) => { refs.current[i] = el; }} style={{ position: "absolute" }} />
      ))}
    </div>
  );
}
